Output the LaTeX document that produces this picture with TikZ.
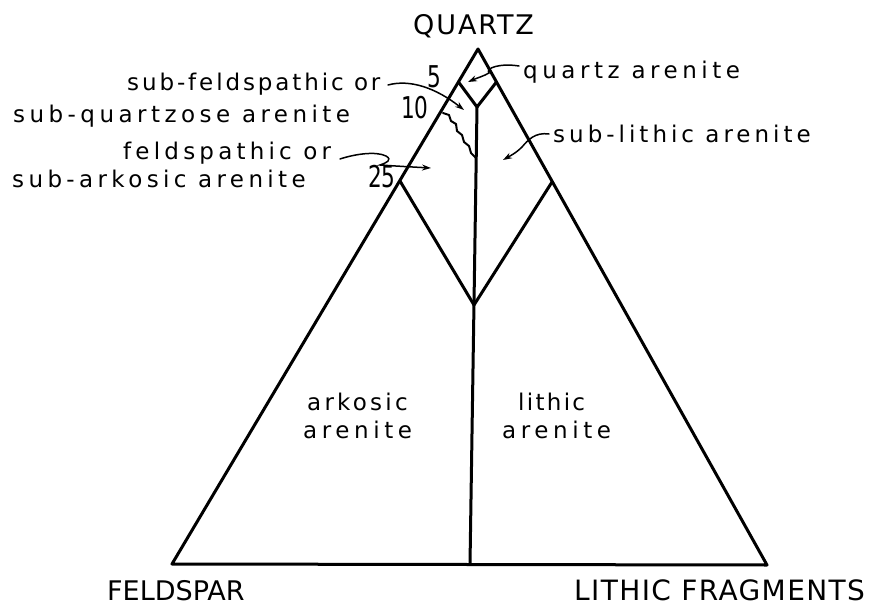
\documentclass[tikz,border=0pt]{standalone}
\usepackage{fontspec}
\usepackage{graphicx}
\usetikzlibrary{arrows.meta}
\setmainfont{DejaVu Sans}
\newfontfamily\labfont{DejaVu Sans}
\newcommand{\lab}[2]{{\labfont\fontsize{23}{27}\selectfont\addfontfeatures{LetterSpace=#1}#2}}
\newcommand{\capl}[3]{{\labfont\fontsize{#1}{#1}\selectfont\addfontfeatures{LetterSpace=#2}#3}}
\newcommand{\digl}[1]{{\labfont\fontsize{30}{30}\selectfont\scalebox{0.72}[1]{#1}}}
\begin{document}
\begin{tikzpicture}[x=1pt,y=-1pt,
  txt/.style={inner sep=0pt, anchor=base west},
  edge/.style={line width=3pt, line join=round, line cap=round},
  thin edge/.style={line width=2pt, line join=round, line cap=round},
  pointer/.style={line width=1.5pt, line cap=round, -{Stealth[length=9pt,width=6pt]}}]
\useasboundingbox (0,0) rectangle (893,609);
% corners
\coordinate (Q) at (478,49);
\coordinate (F) at (172,564);
\coordinate (L) at (767,565);
% 5% points
\coordinate (q5l) at (458.5,82);
\coordinate (q5r) at (496.5,82);
\coordinate (c5) at (477,107);
% 10% point
\coordinate (q10l) at (443,113);
\coordinate (c10) at (476,158);
% 25% points
\coordinate (q25l) at (400,181);
\coordinate (q25r) at (552,182);
\coordinate (c25) at (474,305);
\coordinate (cb) at (470,564);
% triangle
\draw[edge] (Q) -- (F) -- (L) -- cycle;
% quartz arenite field
\draw[edge] (q5l) -- (c5) -- (q5r);
% centre line
\draw[edge] (c5) -- (cb);
% 25 % lines
\draw[edge] (q25l) -- (c25) -- (q25r);
% wavy 10 % line
\draw[thin edge] (q10l) -- (449,115) -- (451,121) -- (456,124) -- (457,131) -- (462,135) -- (464,142) -- (469,146) -- (471,153) -- (c10);
% corner labels
\node[txt] (tQ) at (413,35) {\capl{27}{7}{QUARTZ}};
\node[txt] (tF) at (107,600) {\capl{27}{0}{FELDSPAR}};
\node[txt] (tL) at (574,600) {\capl{28}{5}{LITHIC FRAGMENTS}};
% percentages
\node[txt] (n5) at (427,88) {\digl{5}};
\node[txt] (n10) at (401,119) {\digl{10}};
\node[txt] (n25) at (368,188) {\digl{25}};
% field labels
\node[txt] (tqa) at (523,79) {\lab{19.7}{quartz arenite}};
\node[txt] (tsf1) at (127,91) {\lab{12.6}{sub-feldspathic or}};
\node[txt] (tsf2) at (13,123) {\lab{19.4}{sub-quartzose arenite}};
\node[txt] (tfa1) at (123,160) {\lab{18.3}{feldspathic or}};
\node[txt] (tfa2) at (12,188) {\lab{19}{sub-arkosic arenite}};
\node[txt] (tsl) at (553,143) {\lab{17.4}{sub-lithic arenite}};
\node[txt] (tak1) at (307,410) {\lab{14}{arkosic}};
\node[txt] (tak2) at (303,438) {\lab{20}{arenite}};
\node[txt] (tli1) at (518,410) {\lab{10}{lithic}};
\node[txt] (tli2) at (502,438) {\lab{20}{arenite}};
% pointers
\coordinate (pqa) at (468,82);
\coordinate (psf) at (464,110);
\coordinate (pfa) at (431,168);
\coordinate (psl) at (503,160);
\draw[pointer] (519,66) .. controls (500,63) and (485,68) .. (489,73) .. controls (484,76) and (477,78) .. (pqa);
\draw[pointer] (388,85) .. controls (410,79) and (436,88) .. (psf);
\draw[pointer] (340,159) .. controls (355,154) and (376,151) .. (386,156) .. controls (393,160) and (386,163) .. (380,165) .. controls (395,166) and (412,167) .. (pfa);
\draw[pointer] (549,134) .. controls (535,132) and (528,140) .. (522,147) .. controls (516,153) and (510,156) .. (psl);
\end{tikzpicture}
\end{document}
